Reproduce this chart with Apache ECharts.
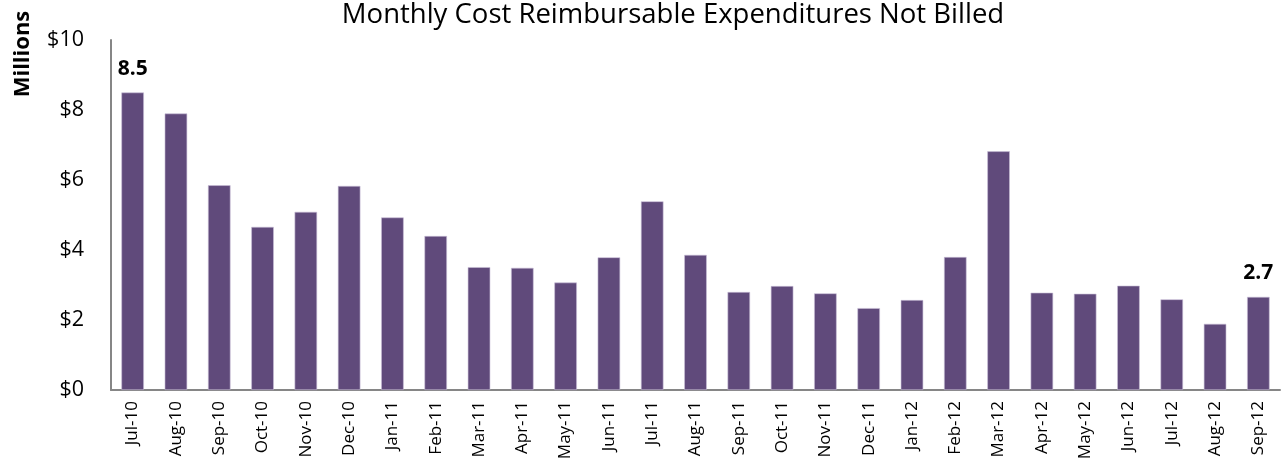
<!DOCTYPE html>
<html>
<head>
<meta charset="utf-8">
<script src="https://cdn.jsdelivr.net/npm/echarts@6/dist/echarts.min.js"></script>
<style>
html,body{margin:0;padding:0;background:#fff;}
#chart{width:1286px;height:470px;}
</style>
</head>
<body>
<div id="chart"></div>
<script>
const titleText = 'Monthly Cost Reimbursable Expenditures Not Billed';
const axisName = 'Millions';
const categories = ['Jul-10','Aug-10','Sep-10','Oct-10','Nov-10','Dec-10','Jan-11','Feb-11','Mar-11','Apr-11','May-11','Jun-11','Jul-11','Aug-11','Sep-11','Oct-11','Nov-11','Dec-11','Jan-12','Feb-12','Mar-12','Apr-12','May-12','Jun-12','Jul-12','Aug-12','Sep-12'];
const values = [8.5,7.9,5.85,4.66,5.09,5.83,4.93,4.4,3.51,3.49,3.07,3.79,5.39,3.86,2.8,2.97,2.76,2.34,2.57,3.8,6.82,2.78,2.75,2.98,2.59,1.89,2.66];
const labeledIdx = [0, 26];
const labelText = ['8.5', '2.7'];
const yTicks = [0, 2, 4, 6, 8, 10];

const FONT = '"Open Sans", "Noto Sans", sans-serif';
const chart = echarts.init(document.getElementById('chart'), null, {renderer: 'canvas'});

const seriesData = values.map((v, i) => {
  const k = labeledIdx.indexOf(i);
  if (k >= 0) {
    return {
      value: v,
      label: {
        show: true, position: 'top', distance: 13,
        formatter: labelText[k],
        fontFamily: FONT, fontWeight: 'bold', fontSize: 21, color: '#000'
      }
    };
  }
  return v;
});

chart.setOption({
  animation: false,
  backgroundColor: '#fff',
  title: {
    text: titleText,
    left: 668, top: -4,
    textAlign: 'center',
    textStyle: {fontFamily: FONT, fontWeight: 'normal', fontSize: 27.5, color: '#000'}
  },
  graphic: [{
    type: 'text',
    x: 23, y: 54,
    rotation: Math.PI / 2,
    style: {text: axisName, fontFamily: FONT, fontWeight: 'bold', fontSize: 22, fill: '#000',
            textAlign: 'center', textVerticalAlign: 'middle'}
  }],
  grid: {left: 111, right: 6, top: 40, bottom: 80, containLabel: false},
  xAxis: {
    type: 'category',
    data: categories,
    axisLine: {show: true, lineStyle: {color: '#868686', width: 2}},
    axisTick: {show: false},
    axisLabel: {rotate: 90, margin: 11, interval: 0, fontFamily: FONT, fontSize: 17, color: '#000'},
    splitLine: {show: false}
  },
  yAxis: {
    type: 'value',
    min: yTicks[0], max: yTicks[yTicks.length - 1], interval: 2,
    axisLine: {show: true, lineStyle: {color: '#868686', width: 2}},
    axisTick: {show: false},
    splitLine: {show: false},
    axisLabel: {margin: 27, fontFamily: FONT, fontSize: 21.5, color: '#000', formatter: v => '$' + v}
  },
  series: [{
    type: 'bar',
    data: seriesData,
    barCategoryGap: '48%',
    itemStyle: {color: '#604A7B', borderColor: '#c9bfd6', borderWidth: 0.6}
  }]
});
</script>
</body>
</html>
